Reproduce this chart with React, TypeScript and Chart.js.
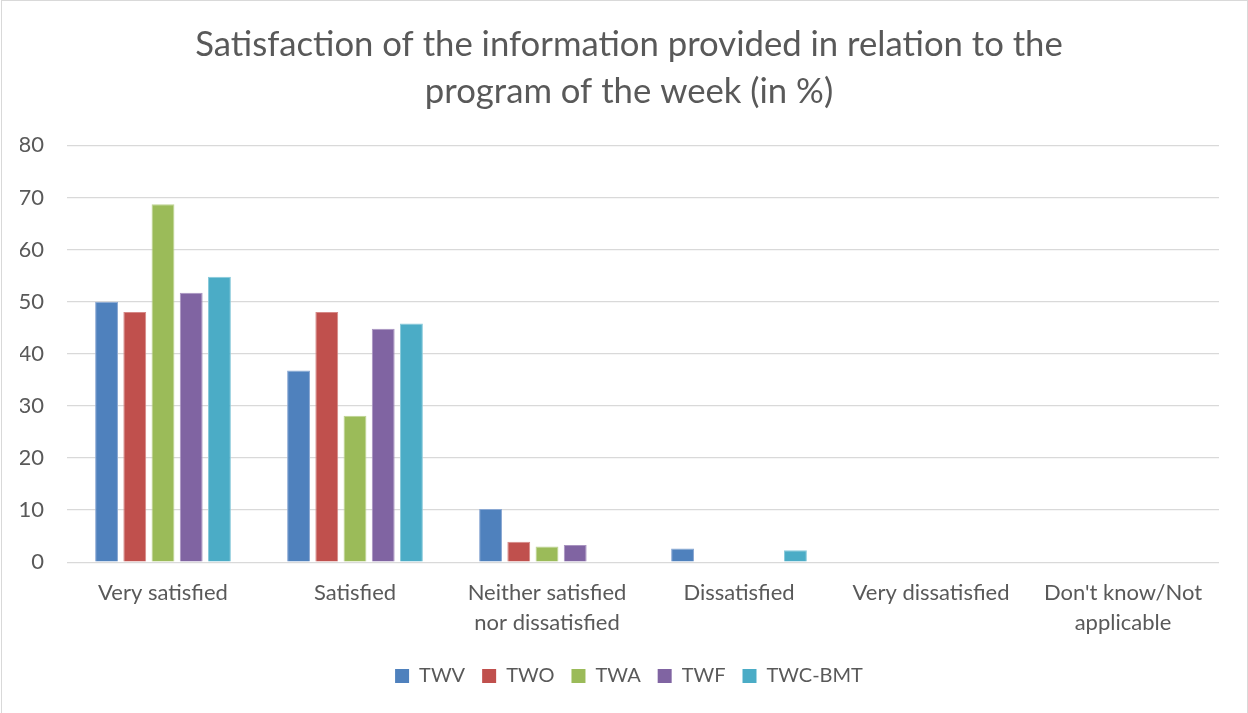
import React, { useEffect, useRef } from "react";
import { Chart, registerables } from "chart.js";

Chart.register(...registerables);

const categories: (string | string[])[] = [
  "Very satisfied",
  "Satisfied",
  ["Neither satisfied", "nor dissatisfied"],
  "Dissatisfied",
  "Very dissatisfied",
  ["Don't know/Not", "applicable"],
];

const seriesNames = ["TWV", "TWO", "TWA", "TWF", "TWC-BMT"];
const twv = [50, 36.8, 10.2, 2.6, 0, 0];
const two = [48, 48, 3.9, 0, 0, 0];
const twa = [68.7, 28.1, 3.0, 0, 0, 0];
const twf = [51.7, 44.8, 3.3, 0, 0, 0];
const twcBmt = [54.8, 45.8, 0, 2.3, 0, 0];
const seriesColors = ["#4F81BD", "#C0504D", "#9BBB59", "#8064A2", "#4BACC6"];
const seriesBorders = ["#8AA8D3", "#D68886", "#BDD392", "#A893C0", "#88CADB"];

const yTicks = [0, 10, 20, 30, 40, 50, 60, 70, 80];

const titleLines = [
  "Satisfaction of the information provided in relation to the",
  "program of the week (in %)",
];

const FONT = "Lato, 'Open Sans', sans-serif";
const GREY = "#595959";

export default function App() {
  const canvasRef = useRef<HTMLCanvasElement | null>(null);

  useEffect(() => {
    if (!canvasRef.current) return;
    const allSeries = [twv, two, twa, twf, twcBmt];
    const chart = new Chart(canvasRef.current, {
      type: "bar",
      data: {
        labels: categories,
        datasets: allSeries.map((d, i) => ({
          label: seriesNames[i],
          data: d,
          backgroundColor: seriesColors[i],
          borderColor: seriesBorders[i],
          borderWidth: 1,
          categoryPercentage: 0.735,
          barPercentage: 0.81,
        })),
      },
      options: {
        animation: false,
        responsive: true,
        maintainAspectRatio: false,
        layout: { padding: { left: 18, right: 9, top: 20, bottom: 17 } },
        plugins: {
          title: {
            display: true,
            text: titleLines,
            color: GREY,
            font: { family: FONT, size: 34.7, weight: "normal", lineHeight: 1.36 },
            padding: { top: 0, bottom: 30 },
          },
          legend: {
            position: "bottom",
            labels: {
              color: GREY,
              font: { family: FONT, size: 20 },
              boxWidth: 14,
              boxHeight: 14,
              padding: 17,
              generateLabels: (c: any) =>
                c.data.datasets.map((ds: any, i: number) => ({
                  text: ds.label,
                  fillStyle: seriesColors[i],
                  strokeStyle: seriesColors[i],
                  lineWidth: 0,
                  hidden: false,
                  datasetIndex: i,
                  fontColor: GREY,
                })),
            },
          },
          tooltip: { enabled: false },
        },
        scales: {
          x: {
            grid: { display: false },
            border: { display: false },
            afterFit: (axis: any) => {
              axis.height += 3;
            },
            ticks: {
              color: GREY,
              font: { family: FONT, size: 22, lineHeight: 1.36 },
              maxRotation: 0,
              autoSkip: false,
              padding: 8,
            },
          },
          y: {
            min: 0,
            max: 80,
            afterBuildTicks: (axis: any) => {
              axis.ticks = yTicks.map((v) => ({ value: v }));
            },
            afterFit: (axis: any) => {
              axis.width = 47;
            },
            grid: { color: "#D9D9D9", lineWidth: 1.3, drawTicks: false },
            border: { display: false },
            ticks: {
              color: GREY,
              font: { family: FONT, size: 22 },
              padding: 23,
            },
          },
          ySpacer: {
            position: "right",
            min: 0,
            max: 80,
            grid: { display: false, drawTicks: false },
            border: { display: false },
            ticks: { display: false },
            afterFit: (axis: any) => {
              axis.width = 19;
            },
          },
        },
      },
    });
    return () => chart.destroy();
  }, []);

  return (
    <div
      style={{
        position: "fixed",
        left: 1,
        top: 0,
        width: 1247,
        height: 740,
        boxSizing: "border-box",
        border: "1px solid #D9D9D9",
        background: "#fff",
      }}
    >
      <div style={{ position: "relative", width: 1245, height: 712 }}>
        <canvas ref={canvasRef} />
      </div>
    </div>
  );
}
